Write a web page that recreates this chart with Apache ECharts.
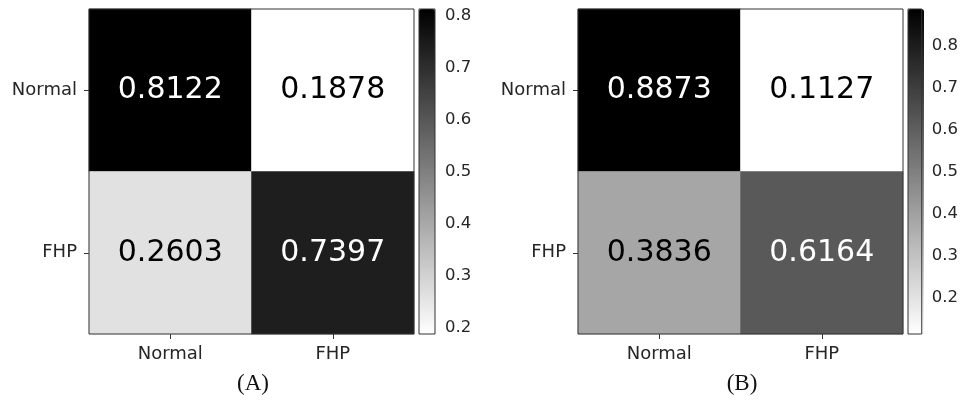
<!DOCTYPE html>
<html>
<head>
<meta charset="utf-8">
<script src="https://cdn.jsdelivr.net/npm/echarts@6/dist/echarts.min.js"></script>
<style>html,body{margin:0;padding:0;background:#fff;}#c{width:961px;height:407px;}</style>
</head>
<body>
<div id="c"></div>
<script>
const categories = ['Normal', 'FHP'];
// rows = true class (top to bottom), columns = predicted class (left to right)
const matrixA = [[0.8122, 0.1878], [0.2603, 0.7397]];
const matrixB = [[0.8873, 0.1127], [0.3836, 0.6164]];
const colorbarTicksA = [0.2, 0.3, 0.4, 0.5, 0.6, 0.7, 0.8];
const colorbarTicksB = [0.2, 0.3, 0.4, 0.5, 0.6, 0.7, 0.8];
const captions = ['(A)', '(B)'];

function toData(m) {
  const vals = m.flat();
  const mn = Math.min(...vals), mx = Math.max(...vals);
  const mid = (mn + mx) / 2;
  const out = [];
  m.forEach((row, r) => row.forEach((v, c) => {
    out.push({ value: [c, r, v], label: { color: v > mid ? '#ffffff' : '#000000' } });
  }));
  return { data: out, min: mn, max: mx };
}
const A = toData(matrixA), B = toData(matrixB);

const font = 'DejaVu Sans';
const axisText = { fontFamily: font, fontSize: 18, color: '#262626' };
const gridBox = { show: true, borderColor: '#333', borderWidth: 1, backgroundColor: 'transparent', z: 5 };

function catX(gi) {
  return { type: 'category', gridIndex: gi, data: categories, position: 'bottom',
    axisLine: { show: false }, splitLine: { show: false }, splitArea: { show: false },
    axisTick: { show: true, alignWithLabel: true, length: 5, lineStyle: { color: '#333' } },
    axisLabel: Object.assign({ margin: 11 }, axisText) };
}
function catY(gi) {
  return { type: 'category', gridIndex: gi, data: categories, inverse: true,
    axisLine: { show: false }, splitLine: { show: false }, splitArea: { show: false },
    axisTick: { show: true, alignWithLabel: true, length: 5, lineStyle: { color: '#333' } },
    axisLabel: Object.assign({ margin: 12 }, axisText) };
}
function cbY(gi, info, ticks) {
  return { type: 'value', gridIndex: gi, position: 'right', min: info.min, max: info.max,
    axisLine: { show: false }, splitLine: { show: false },
    axisTick: { show: true, length: 5, customValues: ticks, lineStyle: { color: '#333' } },
    axisLabel: Object.assign({ margin: 10, customValues: ticks, formatter: v => v.toFixed(1) }, axisText, { fontSize: 16.5 }) };
}
function hm(gi, info) {
  return { type: 'heatmap', xAxisIndex: gi, yAxisIndex: gi, data: info.data,
    label: { show: true, fontFamily: font, fontSize: 30, formatter: p => p.value[2].toFixed(4) },
    itemStyle: { borderWidth: 0 }, emphasis: { disabled: true } };
}

const chart = echarts.init(document.getElementById('c'));
chart.setOption({
  animation: false,
  backgroundColor: '#ffffff',
  grid: [
    Object.assign({ left: 89, top: 9, width: 325, height: 325 }, gridBox),
    Object.assign({ left: 578, top: 9, width: 325, height: 325 }, gridBox),
    Object.assign({ left: 419, top: 9, width: 16, height: 325 }, gridBox, { z: 10 }),
    Object.assign({ left: 908, top: 9, width: 16, height: 325 }, gridBox, { z: 10 })
  ],
  xAxis: [catX(0), catX(1),
    { type: 'value', gridIndex: 2, show: false }, { type: 'value', gridIndex: 3, show: false }],
  yAxis: [catY(0), catY(1), cbY(2, A, colorbarTicksA), cbY(3, B, colorbarTicksB)],
  visualMap: [
    { type: 'continuous', seriesIndex: 0, min: A.min, max: A.max, calculable: false,
      orient: 'vertical', left: 419, top: 9, itemWidth: 16, itemHeight: 325, padding: 0,
      inRange: { color: ['#ffffff', '#000000'] } },
    { type: 'continuous', seriesIndex: 1, min: B.min, max: B.max, calculable: false,
      orient: 'vertical', left: 908, top: 9, itemWidth: 16, itemHeight: 325, padding: 0,
      inRange: { color: ['#ffffff', '#000000'] } }
  ],
  series: [hm(0, A), hm(1, B)],
  graphic: [
    { type: 'text', x: 253, y: 384, style: { text: captions[0], font: '23px "Liberation Serif"', fill: '#111', textAlign: 'center', textVerticalAlign: 'middle' } },
    { type: 'text', x: 742, y: 384, style: { text: captions[1], font: '23px "Liberation Serif"', fill: '#111', textAlign: 'center', textVerticalAlign: 'middle' } }
  ]
});
</script>
</body>
</html>
